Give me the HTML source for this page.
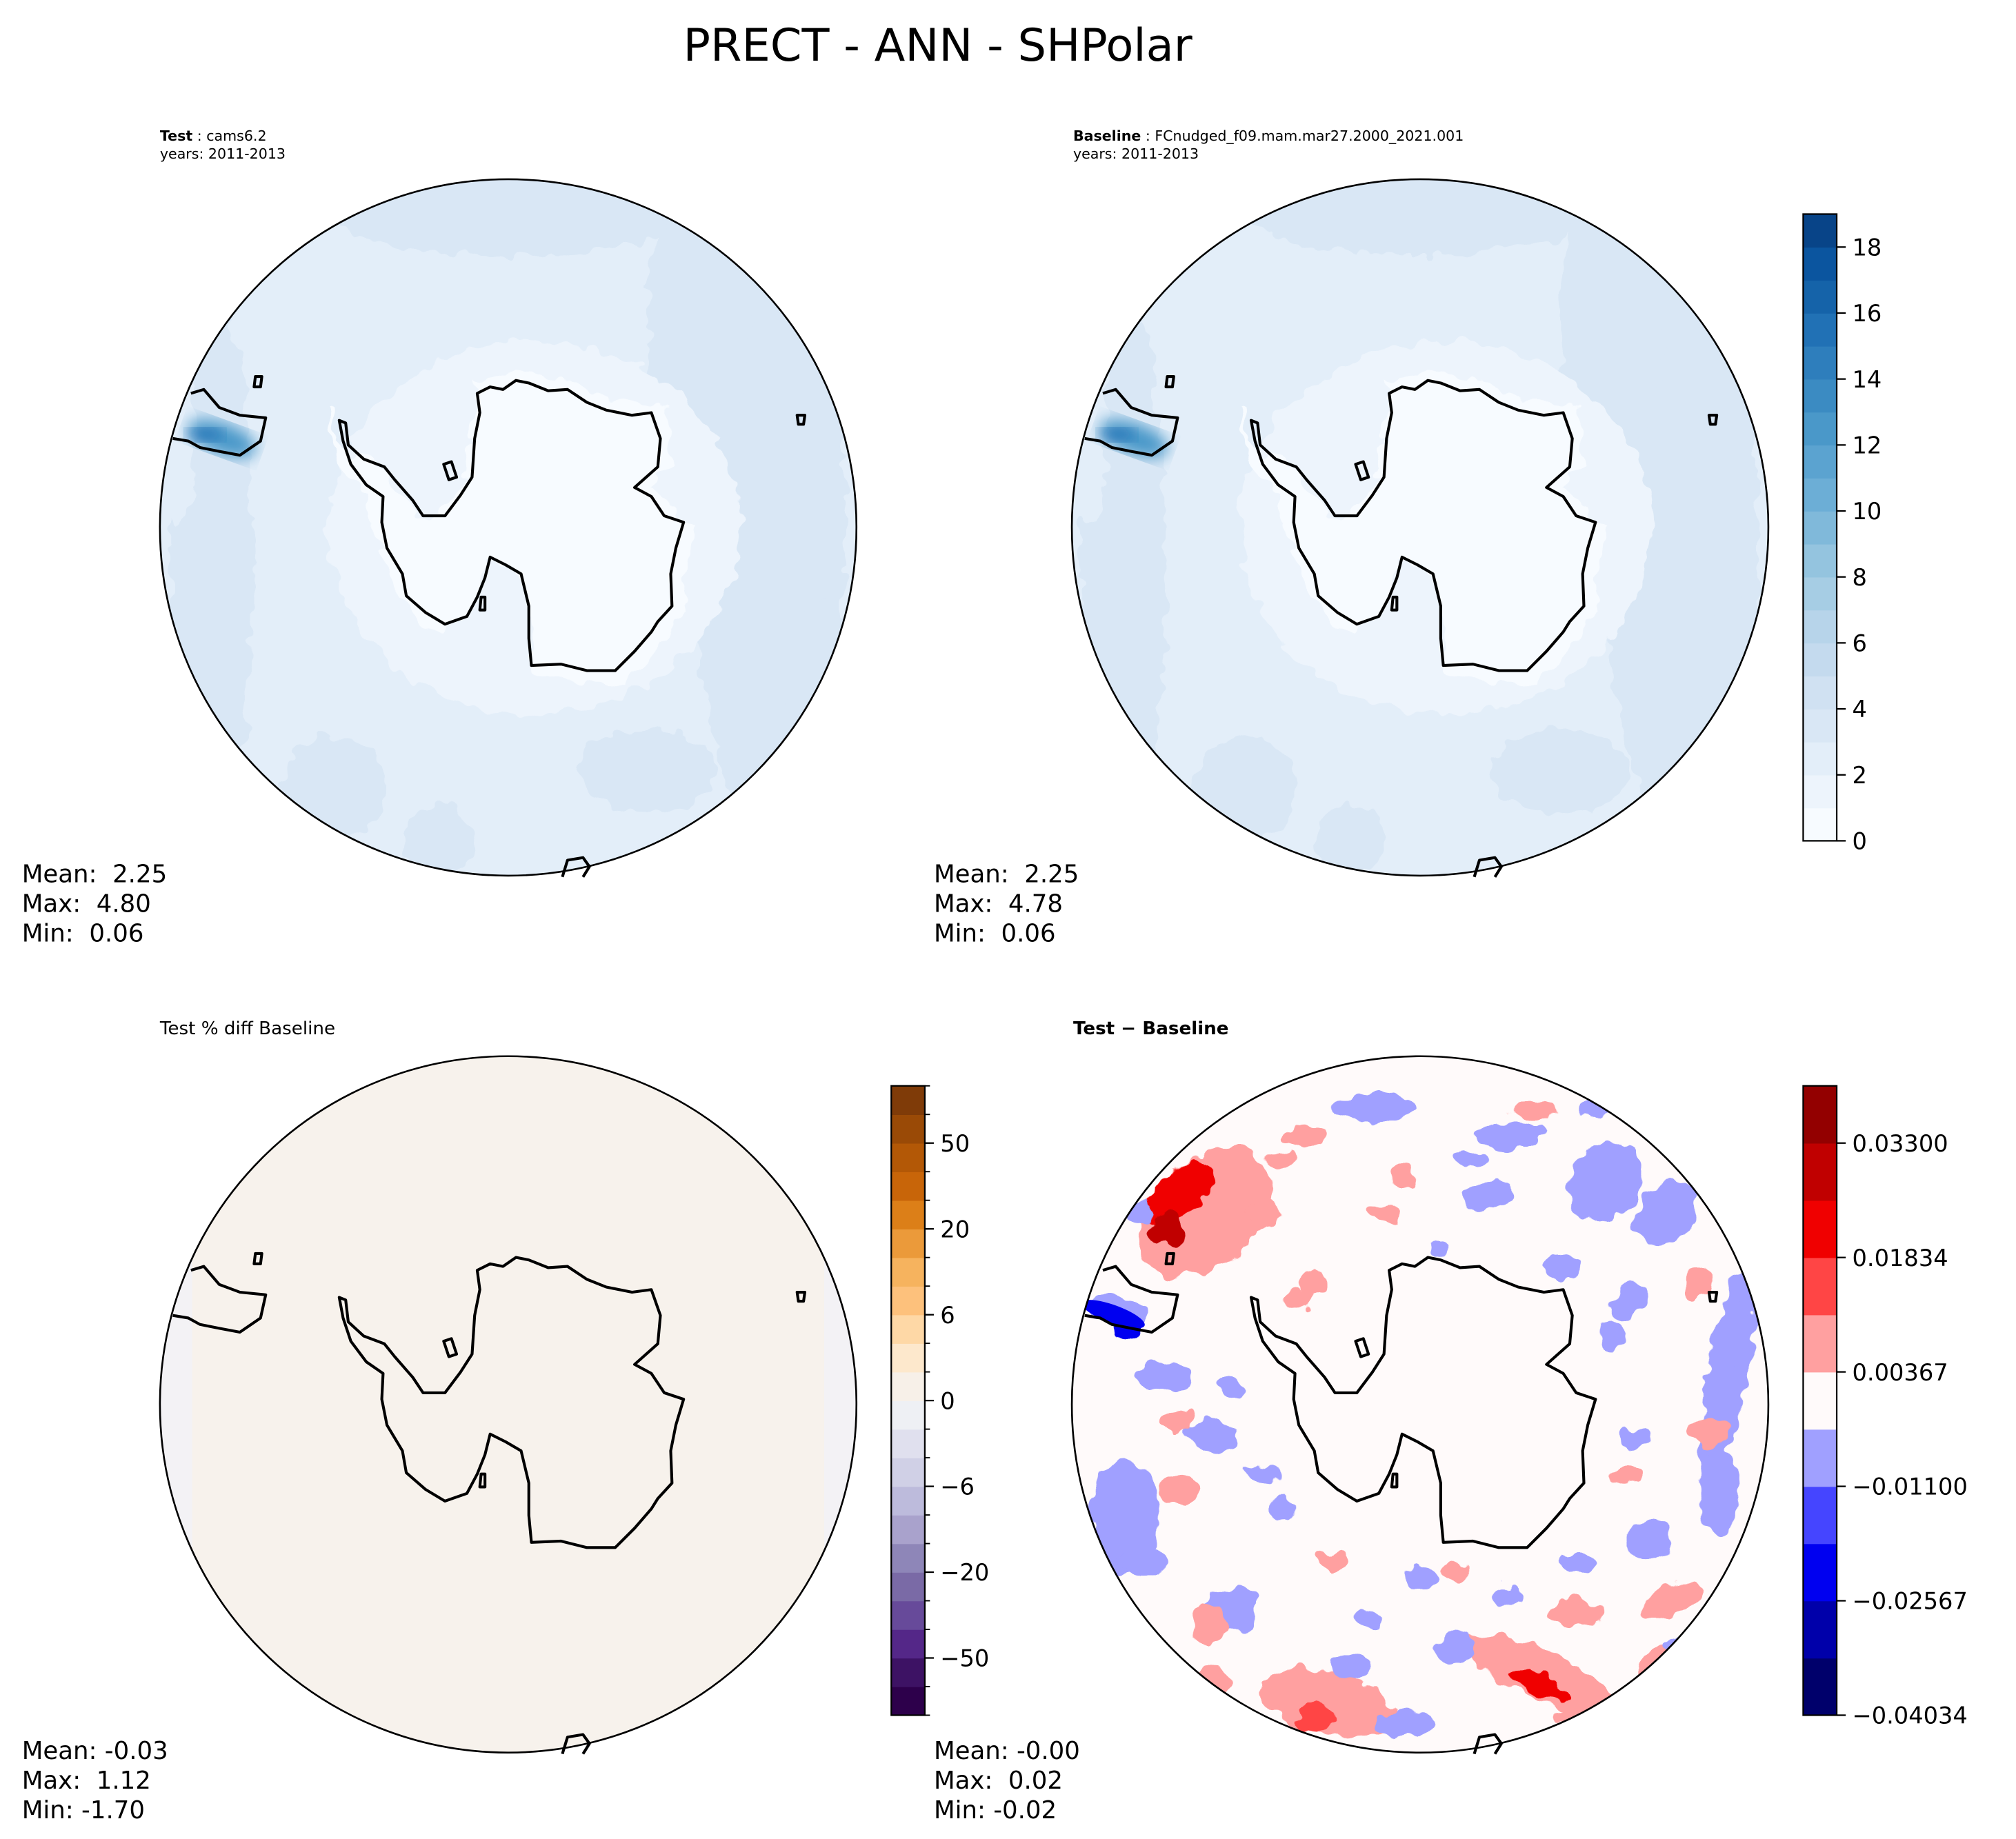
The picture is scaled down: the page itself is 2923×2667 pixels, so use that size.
<!DOCTYPE html>
<html><head><meta charset="utf-8"><style>
html,body{margin:0;padding:0;background:#fff;}
svg{display:block;}
text{font-family:"DejaVu Sans","Liberation Sans",sans-serif;white-space:pre;}
</style></head><body>
<svg id="fig" width="2923" height="2667" viewBox="0 0 1563 1426" preserveAspectRatio="none" xmlns="http://www.w3.org/2000/svg" xml:space="preserve">
<defs>
<filter id="blobby" x="-20%" y="-20%" width="140%" height="140%">
<feTurbulence type="fractalNoise" baseFrequency="0.07" numOctaves="2" seed="3"/>
<feDisplacementMap in="SourceGraphic" scale="16" xChannelSelector="R" yChannelSelector="G"/>
</filter>
<filter id="soft"><feGaussianBlur stdDeviation="6"/></filter>
</defs>
<text x="727" y="47" font-size="35" text-anchor="middle">PRECT - ANN - SHPolar</text>

<text x="124" y="109" font-size="11"><tspan font-weight="bold">Test</tspan> : cams6.2</text>
<text x="124" y="123" font-size="11">years: 2011-2013</text>
<text x="832" y="109" font-size="11"><tspan font-weight="bold">Baseline</tspan> : FCnudged_f09.mam.mar27.2000_2021.001</text>
<text x="832" y="123" font-size="11">years: 2011-2013</text>
<text x="124" y="802" font-size="14">Test % diff Baseline</text>
<text x="832" y="802" font-size="14" font-weight="bold">Test − Baseline</text>

<g font-size="19">
<text x="17" y="684">Mean:  2.25</text><text x="17" y="707">Max:  4.80</text><text x="17" y="730">Min:  0.06</text></g>
<g font-size="19">
<text x="724" y="684">Mean:  2.25</text><text x="724" y="707">Max:  4.78</text><text x="724" y="730">Min:  0.06</text></g>
<g font-size="19">
<text x="17" y="1364">Mean: -0.03</text><text x="17" y="1387">Max:  1.12</text><text x="17" y="1410">Min: -1.70</text></g>
<g font-size="19">
<text x="724" y="1364">Mean: -0.00</text><text x="724" y="1387">Max:  0.02</text><text x="724" y="1410">Min: -0.02</text></g>
<g id="maps"></g>
<g id="cbars"></g>
</svg>
<script>
// ---- colorbar data ----
const precipLevels = [0,1,2,3,4,5,6,7,8,9,10,11,12,13,14,15,16,17,18,19];
const precipTicks = [0,2,4,6,8,10,12,14,16,18];
const precipColors = ["#f7fbff","#edf4fc","#e3eef9","#d9e7f5","#d0e1f2","#c4daee","#b7d4ea","#a6cde4","#94c4df","#80b9da","#6caed6","#5ba3d0","#4a98c9","#3b8bc2","#2e7ebc","#2171b5","#1563a9","#0b559f","#084488","#08306b"];
const pctLevels = [-100,-70,-50,-40,-30,-20,-15,-10,-6,-4,-2,0,2,4,6,10,15,20,30,40,50,70,100];
const pctTicks = [-50,-20,-6,0,6,20,50];
const pctColors = ["#2d004b","#3d1264","#542788","#674a9a","#7a6aa6","#8e86b8","#a9a2cc","#bdbbdc","#d0d0e6","#e0e0ee","#eef0f4","#f7f0e8","#fde8cc","#fed8a6","#fdc17c","#f6b35e","#eb9a3a","#dc7f18","#c86509","#b35806","#9a4a06","#7f3b08"];
const diffLevels = [-0.04034,-0.033,-0.02567,-0.01834,-0.011,-0.00367,0.00367,0.011,0.01834,0.02567,0.033,0.04034];
const diffTicks = ["−0.04034","−0.02567","−0.01100","0.00367","0.01834","0.03300"];
const diffTickIdx = [0,2,4,6,8,10];
const diffColors = ["#00006b","#0000aa","#0000f0","#4545ff","#a0a0ff","#fffafa","#ffa0a0","#ff4545","#f00000","#c00000","#930000"];

// ---- diff map patches: dx, dy (fraction of radius), rx, ry, rotation, value ----
const diffPatchDX = [-0.62,-0.69,-0.72,-0.86,-0.84,0.35,0.34,-0.26,-0.30,0.88,0.53,0.71,-0.85,-0.54,-0.14,0.26,0.86,0.66,-0.74,-0.60,0.73,0.83,-0.45,-0.34,0.33,-0.69,-0.61,0.10,-0.05,0.50,-0.80,0.60,0.20,-0.20,0.92,0.45,-0.40,0.00,0.70,-0.30,
 -0.10,0.05,0.15,-0.35,0.40,0.55,-0.55,-0.25,0.25,0.62,-0.70,-0.45,0.80,0.35,-0.15,0.10,0.45,-0.60,0.75,-0.05,0.20,-0.40,0.60,-0.80,0.50,-0.30];
const diffPatchDY = [-0.55,-0.61,-0.50,-0.27,-0.22,0.78,0.80,0.86,0.90,-0.08,-0.64,-0.55,0.32,0.59,-0.85,-0.77,0.25,0.39,-0.08,0.09,0.56,0.08,-0.55,-0.77,-0.85,0.25,0.63,0.70,0.92,0.90,0.45,-0.30,-0.60,0.75,-0.20,0.60,0.30,0.50,0.75,-0.35,
 -0.55,-0.45,-0.70,-0.30,-0.40,-0.20,-0.05,0.45,0.55,0.10,0.05,0.20,-0.35,0.30,0.62,0.48,0.45,0.80,0.70,-0.65,-0.30,-0.70,0.20,-0.55,-0.85,0.00];
const diffPatchRX = [0.22,0.12,0.05,0.09,0.04,0.25,0.10,0.20,0.04,0.06,0.10,0.08,0.10,0.08,0.12,0.10,0.06,0.07,0.08,0.07,0.10,0.05,0.05,0.06,0.06,0.06,0.05,0.06,0.08,0.10,0.06,0.04,0.08,0.06,0.04,0.08,0.04,0.05,0.08,0.04,
 0.04,0.03,0.05,0.04,0.05,0.04,0.04,0.05,0.04,0.05,0.05,0.04,0.04,0.05,0.04,0.04,0.05,0.05,0.05,0.04,0.03,0.04,0.05,0.04,0.05,0.03];
const diffPatchRY = [0.15,0.06,0.05,0.04,0.03,0.07,0.035,0.09,0.05,0.32,0.12,0.10,0.16,0.06,0.04,0.04,0.12,0.06,0.04,0.05,0.04,0.04,0.04,0.03,0.03,0.04,0.06,0.04,0.04,0.04,0.04,0.06,0.04,0.04,0.10,0.04,0.04,0.04,0.05,0.04,
 0.03,0.03,0.03,0.03,0.03,0.04,0.03,0.03,0.03,0.03,0.03,0.03,0.05,0.03,0.03,0.03,0.03,0.04,0.03,0.03,0.03,0.03,0.03,0.03,0.03,0.03];
const diffPatchRot = [-40,-40,-40,10,10,25,25,15,80,10,40,40,0,20,0,0,0,0,0,0,-20,0,0,0,0,0,0,0,0,0,0,40,0,0,0,0,0,0,-30,0,
 0,0,0,0,0,0,0,0,0,0,0,0,0,0,0,0,0,0,0,0,0,0,0,0,0,0];
const diffPatchVal = [0.007,0.02,0.03,-0.007,-0.02,0.007,0.02,0.007,0.015,-0.007,-0.007,-0.007,-0.007,-0.007,-0.007,-0.007,-0.007,-0.007,-0.007,-0.007,0.007,0.007,0.007,0.007,0.007,0.007,0.007,-0.007,-0.007,0.007,-0.007,-0.007,-0.007,-0.007,-0.007,0.007,-0.007,-0.007,0.007,0.007,
 0.007,-0.007,-0.007,0.007,-0.007,-0.007,-0.007,0.007,-0.007,-0.007,0.007,-0.007,0.007,-0.007,-0.007,0.007,-0.007,0.007,-0.007,0.007,-0.007,0.007,0.007,-0.007,-0.007,0.007];

// ---- precip map blobs: dx, dy, rx, ry, value ----
const precBlobDX = [0.75,-0.85,0.0,-0.5,0.4,-0.2,0.55,0.9,-0.95];
const precBlobDY = [0.0,0.1,-0.9,0.75,0.7,0.9,-0.6,0.5,-0.3];
const precBlobRX = [0.22,0.12,0.5,0.15,0.2,0.1,0.15,0.1,0.05];
const precBlobRY = [0.9,0.8,0.12,0.15,0.12,0.1,0.4,0.3,0.3];
const precBlobVal = [3.3,3.2,3.1,3.3,3.3,3.2,3.2,3.2,2.2];

const NS="http://www.w3.org/2000/svg";
function mk(tag, attrs, parent){const e=document.createElementNS(NS,tag);for(const k in attrs)e.setAttribute(k,attrs[k]);if(parent)parent.appendChild(e);return e;}
function colorFor(levels, colors, v){for(let i=0;i<colors.length;i++){if(v<levels[i+1])return colors[i];}return colors[colors.length-1];}

const R=270;
const ant="M370,305 L380,300 L390,302 L400,295 L410,297 L425,303 L440,302 L455,312 L470,318 L490,322 L505,320 L512,340 L510,362 L492,378 L505,385 L515,400 L530,405 L524,425 L520,445 L521,470 L510,482 L505,490 L492,505 L477,520 L455,520 L435,515 L412,516 L410,495 L410,470 L404,445 L392,438 L380,432 L376,448 L370,463 L362,478 L345,484 L330,475 L315,462 L312,445 L300,425 L296,405 L297,385 L284,376 L272,360 L266,342 L263,326 L268,328 L270,345 L282,356 L298,362 L306,372 L320,388 L328,400 L345,400 L357,384 L366,370 L368,340 L372,320 Z";
const sam="M148,305 L158,302 L170,316 L186,322 L206,324 L202,342 L186,353 L170,350 L155,347 L146,342 L134,340";
const isl1="M198,292 L203,292 L202,300 L197,300 Z";
const isl2="M618,322 L624,322 L623,329 L619,329 Z";
const isl3="M436,680 L440,667 L452,665 L457,672 L452,680";
const isl4="M344,360 L350,358 L354,370 L348,372 Z M373,463 L376,463 L376,473 L372,473 Z";

const maps=document.getElementById('maps');
function drawMap(cx, cy, kind, name){
  const g=mk('g',{},maps);
  
  
  const cid='clip-'+name;
  const cp=mk('clipPath',{id:cid},g);mk('circle',{cx:cx,cy:cy,r:R},cp);
  const inner=mk('g',{'clip-path':'url(#'+cid+')'},g);
  const ox=cx-394, oy=cy-409;
  if(kind==='prec'){
    mk('circle',{cx:cx,cy:cy,r:R,fill:colorFor(precipLevels,precipColors,2.5)},inner);
    const bl=mk('g',{filter:'url(#blobby)'},inner);
    for(let i=0;i<precBlobDX.length;i++){
      const e=mk('ellipse',{cx:cx+precBlobDX[i]*R,cy:cy+precBlobDY[i]*R,rx:precBlobRX[i]*R,ry:precBlobRY[i]*R,fill:colorFor(precipLevels,precipColors,precBlobVal[i])},bl);
      
      
    }
    mk('ellipse',{cx:cx+20,cy:cy,rx:160,ry:145,fill:colorFor(precipLevels,precipColors,1.5),filter:'url(#blobby)'},inner);
    mk('path',{d:ant,fill:colorFor(precipLevels,precipColors,0.5),transform:'translate('+ox+','+oy+') translate(394,409) scale(1.08) translate(-394,-409)',filter:'url(#blobby)'},inner);
    mk('ellipse',{cx:cx-222,cy:cy-69,rx:28,ry:12,fill:'#4a98c9',filter:'url(#soft)',transform:'rotate(20 '+(cx-222)+' '+(cy-69)+')'},inner);
    mk('ellipse',{cx:cx-235,cy:cy-72,rx:14,ry:5,fill:'#2171b5',filter:'url(#soft)'},inner);
  } else if(kind==='pct'){
    mk('circle',{cx:cx,cy:cy,r:R,fill:'#f7f2ec'},inner);
    mk('rect',{x:cx-R,y:cy-R,width:25,height:2*R,fill:'#f3f2f5'},inner);
    mk('rect',{x:cx+R-25,y:cy-R,width:25,height:2*R,fill:'#f3f2f5'},inner);
  } else {
    mk('circle',{cx:cx,cy:cy,r:R,fill:'#fffafa'},inner);
    const bl=mk('g',{filter:'url(#blobby)'},inner);
    for(let i=0;i<diffPatchDX.length;i++){
      const px=cx+diffPatchDX[i]*R, py=cy+diffPatchDY[i]*R;
      const e=mk('ellipse',{cx:px,cy:py,rx:diffPatchRX[i]*R,ry:diffPatchRY[i]*R,fill:colorFor(diffLevels,diffColors,diffPatchVal[i]),transform:'rotate('+diffPatchRot[i]+' '+px+' '+py+')'},bl);
      
      
    }
    mk('ellipse',{cx:cx-238,cy:cy-70,rx:26,ry:7,fill:'#0000f0',transform:'rotate(20 '+(cx-238)+' '+(cy-70)+')'},inner);
    mk('path',{d:ant,fill:'#fffafa',transform:'translate('+ox+','+oy+')'},inner);
  }
  const coast=mk('g',{transform:'translate('+ox+','+oy+')',fill:'none',stroke:'#000','stroke-width':2.2,'stroke-linejoin':'round'},g);
  
  
  [ant,sam,isl1,isl2,isl3,isl4].forEach(d=>mk('path',{d:d},coast));
  const rim=mk('circle',{cx:cx,cy:cy,r:R,fill:'none',stroke:'#000','stroke-width':1.4},g);
  
  
}
drawMap(394,409,'prec','test-map');
drawMap(1101,409,'prec','baseline-map');
drawMap(394,1089,'pct','pctdiff-map');
drawMap(1101,1089,'diff','diff-map');

const cbars=document.getElementById('cbars');
function drawCbar(x, y0, y1, nb, colors, tickIdx, tickLabels, name, minor){
  const g=mk('g',{},cbars);
  
  
  const w=26, h=(y1-y0)/nb;
  for(let i=0;i<nb;i++){
    mk('rect',{x:x,y:y1-(i+1)*h,width:w,height:h+0.4,fill:colors[i]},g);
  }
  mk('rect',{x:x,y:y0,width:w,height:y1-y0,fill:'none',stroke:'#000','stroke-width':1.2},g);
  if(minor){for(let i=0;i<=nb;i++){mk('line',{x1:x+w,x2:x+w+4,y1:y1-i*h,y2:y1-i*h,stroke:'#000','stroke-width':1},g);}}
  tickIdx.forEach((ti,k)=>{
    const ty=y1-ti*h;
    mk('line',{x1:x+w,x2:x+w+7,y1:ty,y2:ty,stroke:'#000','stroke-width':1.2},g);
    const t=mk('text',{x:x+w+12,y:ty+6.5,'font-size':18},g);
    t.textContent=tickLabels[k];
    
    
  });
}
drawCbar(1398,166,652,precipLevels.length-1,precipColors,precipTicks.map(v=>precipLevels.indexOf(v)),precipTicks.map(String),'precip-colorbar',false);
drawCbar(691,842,1330,pctLevels.length-1,pctColors,pctTicks.map(v=>pctLevels.indexOf(v)),pctTicks.map(v=>v<0?'−'+(-v):String(v)),'pctdiff-colorbar',true);
drawCbar(1398,842,1330,diffLevels.length-1,diffColors,diffTickIdx,diffTicks,'diff-colorbar',false);
</script>
</body></html>
